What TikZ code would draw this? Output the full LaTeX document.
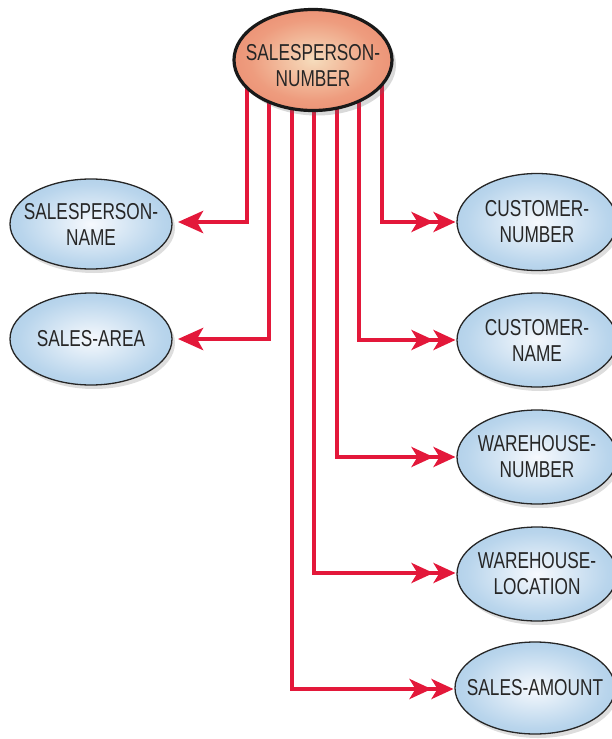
\documentclass[tikz,border=0pt]{standalone}
\usepackage{fontspec}
\setmainfont{Liberation Sans}[FakeStretch=0.75]
\usetikzlibrary{arrows.meta,shapes.geometric,shadows,backgrounds,calc}
\definecolor{linkred}{HTML}{E3183A}
\definecolor{blueedge}{HTML}{8CBADD}
\definecolor{bluemid}{HTML}{B9D5EC}
\definecolor{bluecenter}{HTML}{F6F9FD}
\definecolor{salmonedge}{HTML}{E66F57}
\definecolor{salmonmid}{HTML}{EE9C7E}
\definecolor{salmoncenter}{HTML}{F6DCBC}
\pgfdeclareradialshading{blueball}{\pgfpoint{0bp}{0bp}}{color(0bp)=(bluecenter); color(22bp)=(bluemid); color(50bp)=(blueedge)}
\pgfdeclareradialshading{salmonball}{\pgfpoint{0bp}{0bp}}{color(0bp)=(salmoncenter); color(20bp)=(salmonmid); color(50bp)=(salmonedge)}
\tikzset{
  attrtext/.style={font=\fontsize{23}{26}\selectfont, align=center, text=black!85},
  attr/.style={ellipse, draw=black!85, line width=1.3pt, inner sep=0pt, outer sep=0pt,
    minimum width=160pt, minimum height=94pt, shading=blueball,
    drop shadow={shadow xshift=3pt, shadow yshift=-4pt, opacity=0.22, fill=black!60},
    label={[attrtext]center:#1}},
  keyattr/.style={ellipse, draw=black!90, line width=3.2pt, inner sep=0pt, outer sep=0pt,
    minimum width=158pt, minimum height=101pt, shading=salmonball,
    drop shadow={shadow xshift=4pt, shadow yshift=-5pt, opacity=0.25, fill=black!60}},
  link/.style={draw=linkred, line width=4.8pt},
  leftlink/.style={link, -{Stealth[length=25pt, width=22pt, inset=6pt]}, shorten >=6pt},
  rightlink/.style={link, -{Stealth[length=22pt, width=20pt, inset=6pt] Stealth[length=22pt, width=20pt, inset=6pt]}, shorten >=1.5pt},
}
\begin{document}
\begin{tikzpicture}[x=1pt, y=-1pt]
\useasboundingbox (0,0) rectangle (612,739);
\clip (0,0) rectangle (612,739);
% nodes
\node[keyattr] (sn) at (313,60) {};
\node[attrtext] (snt) at (313,66) {SALESPERSON-\\NUMBER};
\node[attr={SALESPERSON-\\NAME}, minimum width=162pt, minimum height=90pt] (spn) at (91,224) {};
\node[attr={SALES-AREA}, minimum width=162pt, minimum height=92pt] (sa) at (91,339) {};
\node[attr={CUSTOMER-\\NUMBER}, minimum height=97pt] (cn) at (537,222) {};
\node[attr={CUSTOMER-\\NAME}] (cna) at (537,340) {};
\node[attr={WAREHOUSE-\\NUMBER}] (wn) at (537,457) {};
\node[attr={WAREHOUSE-\\LOCATION}] (wl) at (537,574) {};
\node[attr={SALES-AMOUNT}, minimum height=92pt] (sam) at (535,688) {};
% connectors behind the ellipses
\begin{scope}[on background layer]
\draw[leftlink]  ($(sn.center)+(-66,0)$) |- ($(spn.east)+(0,-2)$);
\draw[leftlink]  ($(sn.center)+(-44,0)$) |- (sa.east);
\draw[rightlink] ($(sn.center)+(69,0)$)  |- (cn.west);
\draw[rightlink] ($(sn.center)+(46,0)$)  |- (cna.west);
\draw[rightlink] ($(sn.center)+(24,0)$)  |- (wn.west);
\draw[rightlink] ($(sn.center)+(1,0)$)   |- ($(wl.west)+(0,-1)$);
\draw[rightlink] ($(sn.center)+(-21,0)$) |- ($(sam.west)+(0,1)$);
\end{scope}
\end{tikzpicture}
\end{document}
